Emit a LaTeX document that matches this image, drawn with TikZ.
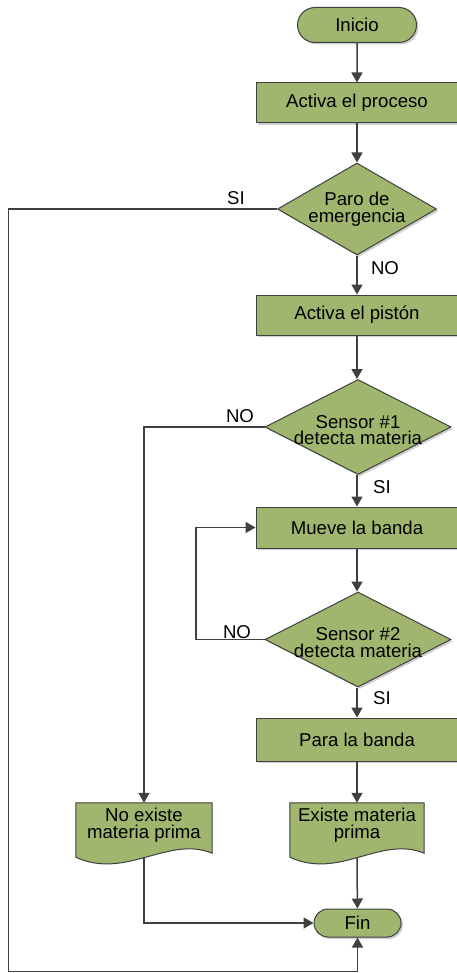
\documentclass[tikz,border=0pt]{standalone}
\usepackage{fontspec}
\setmainfont{Liberation Sans}
\usetikzlibrary{shapes.geometric,shapes.misc,arrows.meta,shadows}

\definecolor{boxfill}{RGB}{160,182,110}
\definecolor{boxline}{RGB}{64,64,64}
\definecolor{wire}{RGB}{64,64,64}

\tikzset{
  txt/.style={font=\fontsize{18.6}{16.8}\selectfont, text=black},
  shade/.style={drop shadow={shadow xshift=2pt, shadow yshift=-2pt, fill=black!30, opacity=.6}},
  terminal/.style={rounded rectangle, draw=boxline, line width=1pt, fill=boxfill, shade,
    inner sep=0pt, txt},
  process/.style={rectangle, draw=boxline, line width=1pt, fill=boxfill, shade,
    minimum width=202pt, minimum height=40pt, inner sep=0pt, txt},
  decision/.style={diamond, draw=boxline, line width=1pt, fill=boxfill, shade,
    inner sep=0pt},
  doctext/.style={rectangle, draw=none, inner sep=0pt, align=center, txt},
  docshape/.style={draw=boxline, line width=1pt, fill=boxfill},
  docshade/.style={fill=black!30, opacity=.6, draw=none},
  flow/.style={draw=wire, line width=1.5pt, -{Triangle[width=11pt,length=10pt]}},
  flowplain/.style={draw=wire, line width=1.5pt},
  tag/.style={txt, inner sep=0pt},
}

\newcommand{\docpath}[1]{%
  (#1.north west) -- (#1.north east) -- ([yshift=4pt]#1.south east)
  .. controls ([xshift=-44pt,yshift=22pt]#1.south east)
  and ([xshift=50pt,yshift=-23pt]#1.south west) .. (#1.south west) -- cycle}

\begin{document}
\begin{tikzpicture}[x=1pt, y=-1pt]
  \clip (0,0) rectangle (457,973);
  \fill[white] (0,0) rectangle (457,973);

  % shapes of the flow
  \node[terminal, minimum width=119pt, minimum height=35pt] (ini) at (357,25) {Inicio};
  \node[process] (act) at (357,103) {Activa el proceso};
  \node[decision, minimum width=159pt, minimum height=92pt,
        label={[txt, align=center]center:Paro de\\emergencia}] (paro) at (357,209) {};
  \node[process] (pis) at (357,315) {Activa el pistón};
  \node[decision, minimum width=186pt, minimum height=95pt,
        label={[txt, align=center, yshift=-3pt]center:Sensor \#1\\detecta materia}] (s1) at (358,427) {};
  \node[process, minimum height=41pt] (mue) at (357,527.5) {Mueve la banda};
  \node[decision, minimum width=186pt, minimum height=95pt,
        label={[txt, align=center, yshift=-3pt]center:Sensor \#2\\detecta materia}] (s2) at (358,639.5) {};
  \node[process, minimum height=43pt] (par) at (357,739.5) {Para la banda};

  % document shapes
  \node[doctext, minimum width=136pt, minimum height=54pt] (noex) at (144,830) {};
  \node[doctext, minimum width=134pt, minimum height=54pt] (siex) at (357,830) {};
  \fill[docshade, xshift=2pt, yshift=-2pt] \docpath{noex};
  \fill[docshade, xshift=2pt, yshift=-2pt] \docpath{siex};
  \path[docshape] \docpath{noex};
  \path[docshape] \docpath{siex};
  \node[doctext, anchor=north] at ([yshift=-5pt]noex.north) {No existe\\materia prima};
  \node[doctext, anchor=north] at ([yshift=-5pt]siex.north) {Existe materia\\prima};

  \node[terminal, minimum width=87pt, minimum height=28pt] (fin) at (357.5,923) {Fin};

  % bends of the side branches
  \coordinate (c1) at (8.5,209);
  \coordinate (c2) at (8.5,971.5);
  \coordinate (c3) at (357.5,971.5);
  \coordinate (c4) at (144,427);
  \coordinate (c5) at (196,639.5);
  \coordinate (c6) at (196,527.5);
  \coordinate (c7) at (144,923);

  % main column
  \draw[flow] (ini) -- (act);
  \draw[flow] (act) -- (paro);
  \draw[flow] (paro) -- (pis);
  \draw[flow] (pis) -- (s1.north -| pis);
  \draw[flow] (s1.south -| mue) -- (mue);
  \draw[flow] (mue) -- (s2.north -| mue);
  \draw[flow] (s2.south -| par) -- (par);
  \draw[flow] (par) -- (siex.north);
  \draw[flow] (siex.south) -- (fin);

  % side branches
  \draw[flow] (paro.west) -- (c1) -- (c2) -- (c3) -- (fin.south);
  \draw[flow] (s1.west) -- (c4) -- (noex.north);
  \draw[flow] (s2.west) -- (c5) -- (c6) -- (mue.west);
  \draw[flow] (noex.south) -- (c7) -- (fin.west);

  % branch labels
  \node[tag] at (236,198) {SI};
  \node[tag] at (385,268) {NO};
  \node[tag] at (240,416) {NO};
  \node[tag] at (382,487) {SI};
  \node[tag] at (237,632) {NO};
  \node[tag] at (382,698) {SI};
\end{tikzpicture}
\end{document}
